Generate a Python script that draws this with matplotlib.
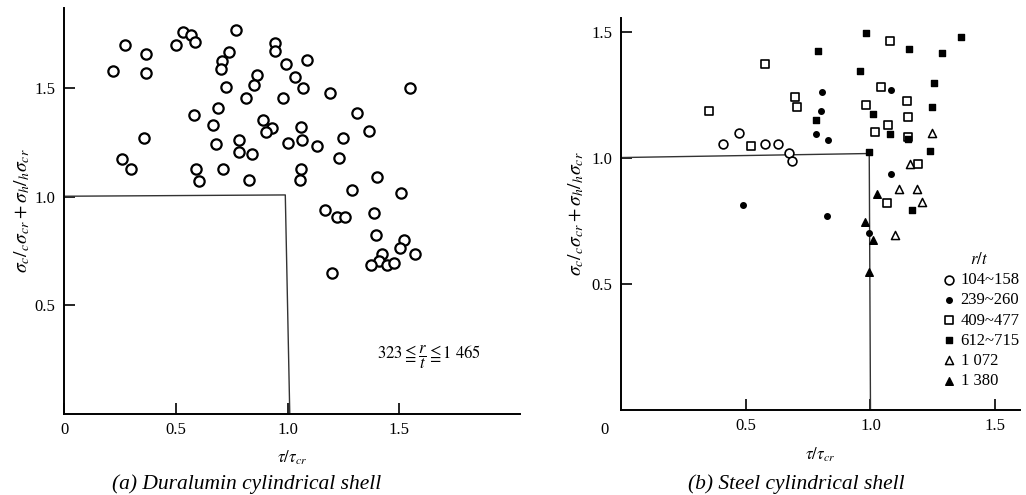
import matplotlib
matplotlib.use("Agg")
import matplotlib.pyplot as plt

plt.rcParams['font.family'] = ['Liberation Serif', 'DejaVu Serif']
plt.rcParams['mathtext.fontset'] = 'stix'

# ---------------- (a) Duralumin cylindrical shell ----------------
dur_x = [0.272, 0.366, 0.220, 0.366, 0.501, 0.534, 0.568, 0.586, 0.771, 0.945,
         0.942, 0.737, 0.709, 0.704, 0.991, 1.085, 0.865, 1.033, 0.723, 0.851,
         1.070, 1.191, 0.816, 0.979, 1.313, 0.689, 0.583, 0.667, 0.891, 0.930,
         0.903, 1.061, 0.356, 0.785, 0.678, 1.001, 1.064, 1.130, 1.250, 0.260,
         0.299, 0.785, 0.843, 1.230, 0.589, 0.710, 1.060, 0.602, 0.828, 1.055,
         1.287, 1.363, 1.399, 1.508, 1.167, 1.223, 1.259, 1.387, 1.396, 1.520,
         1.505, 1.423, 1.571, 1.411, 1.372, 1.443, 1.477, 1.200, 1.546]
dur_y = [1.700, 1.660, 1.578, 1.572, 1.698, 1.760, 1.744, 1.712, 1.768, 1.710,
         1.672, 1.667, 1.624, 1.590, 1.611, 1.629, 1.563, 1.553, 1.506, 1.515,
         1.500, 1.478, 1.457, 1.457, 1.387, 1.411, 1.377, 1.331, 1.355, 1.315,
         1.298, 1.322, 1.271, 1.262, 1.243, 1.246, 1.262, 1.235, 1.269, 1.175,
         1.129, 1.206, 1.198, 1.178, 1.126, 1.126, 1.128, 1.072, 1.077, 1.076,
         1.032, 1.302, 1.092, 1.016, 0.937, 0.905, 0.905, 0.926, 0.823, 0.800,
         0.762, 0.734, 0.734, 0.703, 0.686, 0.685, 0.694, 0.649, 1.503]
dur_box_x = [0.0, 0.99, 1.01]
dur_box_y = [1.002, 1.008, 0.0]

# ---------------- (b) Steel cylindrical shell ----------------
s104_x = [0.407, 0.472, 0.579, 0.628, 0.675, 0.685]
s104_y = [1.054, 1.100, 1.056, 1.056, 1.019, 0.988]
s239_x = [0.805, 0.801, 0.783, 0.831, 1.081, 1.083, 0.488, 0.825, 0.996]
s239_y = [1.261, 1.188, 1.094, 1.071, 1.271, 0.937, 0.813, 0.769, 0.701]
s409_x = [0.351, 0.577, 0.699, 0.707, 0.521, 1.077, 1.043, 1.147, 0.983, 1.152,
          1.069, 1.019, 1.149, 1.192, 1.068]
s409_y = [1.188, 1.373, 1.241, 1.201, 1.048, 1.464, 1.283, 1.226, 1.212, 1.161,
          1.131, 1.102, 1.085, 0.976, 0.823]
s612_x = [0.791, 0.783, 0.983, 0.957, 1.153, 1.255, 1.245, 1.011, 1.077, 1.150,
          1.239, 0.995, 1.364, 1.287, 1.167]
s612_y = [1.423, 1.152, 1.495, 1.346, 1.433, 1.298, 1.204, 1.175, 1.095, 1.075,
          1.029, 1.025, 1.479, 1.418, 0.795]
s1072_x = [1.245, 1.157, 1.115, 1.187, 1.205, 1.099]
s1072_y = [1.100, 0.976, 0.877, 0.877, 0.825, 0.696]
s1380_x = [1.027, 0.979, 1.012, 0.996]
s1380_y = [0.858, 0.746, 0.673, 0.549]
steel_box_x = [0.0, 0.995, 1.0]
steel_box_y = [1.002, 1.018, 0.0]

legend_labels = ['104~158', '239~260', '409~477', '612~715', '1 072', '1 380']

ylab = r'$\sigma_c/_c\sigma_{cr}+\sigma_h/_h\sigma_{cr}$'

fig = plt.figure(figsize=(10.26, 4.95), dpi=100)

ax1 = fig.add_axes([0.0624, 0.1646, 0.4444, 0.8192])
ax2 = fig.add_axes([0.6053, 0.1717, 0.389, 0.792])

for ax in (ax1, ax2):
    for s in ('top', 'right'):
        ax.spines[s].set_visible(False)
    for s in ('left', 'bottom'):
        ax.spines[s].set_linewidth(1.4)
        ax.spines[s].set_color('black')
    ax.tick_params(direction='in', length=8, width=1.2, labelsize=12, pad=6)

# ---- left ----
ax1.plot(dur_box_x, dur_box_y, color='#333333', lw=1.0)
ax1.scatter(dur_x, dur_y, s=55, facecolors='white', edgecolors='black', linewidths=1.6, zorder=3)
ax1.set_xlim(0, 2.04)
ax1.set_ylim(0, 1.87)
ax1.set_xticks([0, 0.5, 1.0, 1.5])
ax1.set_xticklabels(['0', '0.5', '1.0', '1.5'])
ax1.set_yticks([0.5, 1.0, 1.5])
ax1.set_yticklabels(['0.5', '1.0', '1.5'])
ax1.set_xlabel(r'$\tau/\tau_{cr}$', fontsize=12, labelpad=8)
ax1.set_ylabel(ylab, fontsize=14, labelpad=2)
ax1.text(1.40, 0.26, r'$323\leqq\dfrac{r}{t}\leqq1\ 465$', fontsize=12, va='center', ha='left')

# ---- right ----
ax2.plot(steel_box_x, steel_box_y, color='#333333', lw=1.0)
h1 = ax2.scatter(s104_x, s104_y, s=40, facecolors='white', edgecolors='black', linewidths=1.2, zorder=3)
h2 = ax2.scatter(s239_x, s239_y, s=16, c='black', marker='o', zorder=3)
h3 = ax2.scatter(s409_x, s409_y, s=30, facecolors='white', edgecolors='black', marker='s', linewidths=1.2, zorder=3)
h4 = ax2.scatter(s612_x, s612_y, s=24, c='black', marker='s', zorder=3)
h5 = ax2.scatter(s1072_x, s1072_y, s=34, facecolors='white', edgecolors='black', marker='^', linewidths=1.1, zorder=3)
h6 = ax2.scatter(s1380_x, s1380_y, s=30, c='black', marker='^', zorder=3)
ax2.set_xlim(0, 1.6)
ax2.set_ylim(0, 1.556)
ax2.set_xticks([0.5, 1.0, 1.5])
ax2.set_xticklabels(['0.5', '1.0', '1.5'])
ax2.set_yticks([0.5, 1.0, 1.5])
ax2.set_yticklabels(['0.5', '1.0', '1.5'])
ax2.text(-0.03, -0.03, '0', transform=ax2.transAxes, fontsize=12, ha='right', va='top')
ax2.set_xlabel(r'$\tau/\tau_{cr}$', fontsize=12, labelpad=8)
ax2.set_ylabel(ylab, fontsize=14, labelpad=4)
ax2.legend([h1, h2, h3, h4, h5, h6], legend_labels, title=r'$r/t$',
           frameon=False, loc='upper left', bbox_to_anchor=(0.78, 0.42),
           fontsize=12, title_fontsize=12, handletextpad=0.1, labelspacing=0.25,
           handlelength=1.2, borderaxespad=0)

fig.text(0.24, 0.012, '(a) Duralumin cylindrical shell', fontsize=15.5, style='italic', ha='center')
fig.text(0.776, 0.012, '(b) Steel cylindrical shell', fontsize=15.5, style='italic', ha='center')

fig.savefig('out.png', dpi=100)
